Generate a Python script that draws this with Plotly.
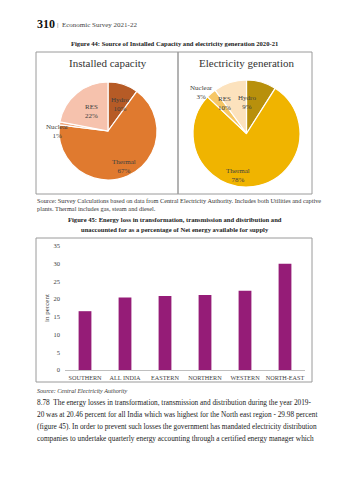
import math
import plotly.graph_objects as go

W, H = 349, 480
SERIF = "Liberation Serif"

# Figure 44 data
pie_labels = ["Hydro", "Thermal", "Nuclear", "RES"]
installed_pct = [10, 67, 1, 22]
generation_pct = [9, 78, 3, 10]
installed_colors = ["#b65b26", "#e07a2f", "#f0a87e", "#f6c2ad"]
generation_colors = ["#b8900c", "#f0b400", "#f6c766", "#fce2bd"]

# Figure 45 data
regions = ["SOUTHERN", "ALL INDIA", "EASTERN", "NORTHERN", "WESTERN", "NORTH-EAST"]
loss_pct = [16.6, 20.46, 20.9, 21.2, 22.4, 29.98]
y_ticks = [0, 5, 10, 15, 20, 25, 30, 35]

paragraph = [
    "8.78  The energy losses in transformation, transmission and distribution during the year 2019-",
    "20 was at 20.46 percent for all India which was highest for the North east region - 29.98 percent",
    "(figure 45). In order to prevent such losses the government has mandated electricity distribution",
    "companies to undertake quarterly energy accounting through a certified energy manager which",
]


def px(x):
    return x / W


def py(y):
    return 1 - y / H


fig = go.Figure()
annotations = []
shapes = []


def add_pie(name, values, colors, cx, cy, r, outside):
    fig.add_trace(go.Pie(
        labels=pie_labels, values=values, sort=False, direction="clockwise",
        rotation=0, marker=dict(colors=colors, line=dict(color="white", width=1.2)),
        textinfo="none", hoverinfo="label+percent", showlegend=False, name=name,
        domain=dict(x=[px(cx - r), px(cx + r)], y=[py(cy + r), py(cy - r)]),
    ))
    total = sum(values)
    acc = 0
    for lab, v in zip(pie_labels, values):
        mid = (acc + v / 2) / total * 2 * math.pi
        acc += v
        k = outside.get(lab, 0.8)
        lx = cx + k * r * math.sin(mid)
        ly = cy - k * r * math.cos(mid)
        annotations.append(dict(
            x=px(lx), y=py(ly), xref="paper", yref="paper", showarrow=False,
            text=f"{lab}<br>{v}%", font=dict(family=SERIF, size=7, color="#404040"),
            align="center",
        ))


add_pie("Installed capacity", installed_pct, installed_colors, 108, 131, 49, {"Nuclear": 1.33})
add_pie("Electricity generation", generation_pct, generation_colors, 246.5, 133.5, 53.5,
        {"Nuclear": 1.28})

fig.add_trace(go.Bar(
    x=regions, y=loss_pct, marker=dict(color="#951c77", line=dict(width=0)),
    width=0.32, showlegend=False, xaxis="x", yaxis="y",
))


def text(x, y, s, size, bold=False, anchor="left", color="#222", italic=False, family=SERIF):
    if bold:
        s = f"<b>{s}</b>"
    if italic:
        s = f"<i>{s}</i>"
    annotations.append(dict(
        x=px(x), y=py(y), xref="paper", yref="paper", xanchor=anchor, yanchor="middle",
        showarrow=False, text=s, font=dict(family=family, size=size, color=color),
    ))


# page header and captions
text(35, 24, "310", 12, bold=True, color="#111")
text(55, 25, "|  Economic Survey 2021-22", 7, color="#444")
text(174.5, 43, "Figure 44: Source of Installed Capacity and electricity generation 2020-21", 6.6,
     bold=True, anchor="center")
text(108, 63, "Installed capacity", 11, anchor="center", color="#333")
text(246.5, 63, "Electricity generation", 11, anchor="center", color="#333")
text(35, 200, "Source: Survey Calculations based on data from Central Electricity Authority. "
     "Includes both Utilities and captive", 6.3, color="#333")
text(35, 208, "plants. Thermal includes gas, steam and diesel.", 6.3, color="#333")
text(174.5, 220, "Figure 45: Energy loss in transformation, transmission and distribution and", 6.6,
     bold=True, anchor="center")
text(174.5, 229, "unaccounted for as a percentage of Net energy available for supply", 6.6,
     bold=True, anchor="center")
text(35, 391, "Source: Central Electricity Authority", 6.1, italic=True, color="#333")
for i, line in enumerate(paragraph):
    text(35, 402 + i * 12, line, 7.3, color="#222")

# frames
box_col = "#9a9a9a"
shapes.append(dict(type="rect", xref="paper", yref="paper", x0=px(36), x1=px(312),
                   y0=py(194), y1=py(52), line=dict(color=box_col, width=1)))
shapes.append(dict(type="line", xref="paper", yref="paper", x0=px(178), x1=px(178),
                   y0=py(194), y1=py(52), line=dict(color=box_col, width=1.5)))
shapes.append(dict(type="rect", xref="paper", yref="paper", x0=px(36), x1=px(312),
                   y0=py(382), y1=py(238), line=dict(color=box_col, width=1)))

fig.update_layout(
    width=W, height=H, margin=dict(l=0, r=0, t=0, b=0, autoexpand=False),
    paper_bgcolor="white", plot_bgcolor="white",
    annotations=annotations, shapes=shapes,
    xaxis=dict(domain=[px(65), px(305)], anchor="y", showgrid=False, zeroline=False,
               showline=True, linecolor="#bfbfbf", linewidth=1, ticks="", tickangle=0,
               automargin=False, ticklabelstandoff=2,
               tickfont=dict(family=SERIF, size=6.2, color="#404040")),
    yaxis=dict(domain=[py(370), py(246)], range=[0, 35], tickvals=y_ticks, showgrid=False,
               zeroline=False, showline=False, ticks="", ticklabelstandoff=4, automargin=False,
               tickfont=dict(family=SERIF, size=6.5, color="#404040"),
               title=dict(text="in percent", standoff=3,
                          font=dict(family=SERIF, size=7, color="#404040"))),
    bargap=0.68,
)

fig.write_html("out.html")
